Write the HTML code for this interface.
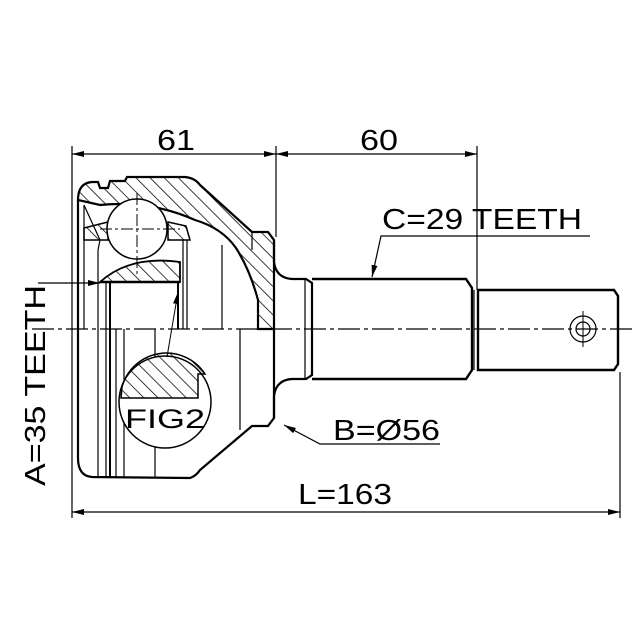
<!DOCTYPE html>
<html><head><meta charset="utf-8"><style>body{margin:0;background:#fff}svg{display:block}</style></head><body>
<svg width="640" height="640" viewBox="0 0 640 640" xmlns="http://www.w3.org/2000/svg" font-family="Liberation Sans, sans-serif">
<defs>
<pattern id="h" width="10" height="10" patternUnits="userSpaceOnUse" patternTransform="rotate(-45)"><line x1="0" y1="0" x2="0" y2="10" stroke="#000" stroke-width="1.5"/></pattern>
<marker id="a" viewBox="0 0 12 6" refX="12" refY="3" markerWidth="12" markerHeight="6" orient="auto-start-reverse" markerUnits="userSpaceOnUse"><path d="M0,0 L12,3 L0,6z" fill="#000"/></marker>
</defs>
<rect width="640" height="640" fill="#fff"/>
<g stroke="#000" fill="none">
<line x1="72" y1="146" x2="72" y2="518" stroke-width="1.2"/>
<line x1="276" y1="146" x2="276" y2="237" stroke-width="1.2"/>
<line x1="477" y1="146" x2="477" y2="290" stroke-width="1.2"/>
<line x1="620" y1="372" x2="620" y2="518" stroke-width="1.2"/>
<line x1="72" y1="154" x2="276" y2="154" stroke-width="1.2" marker-start="url(#a)" marker-end="url(#a)"/>
<line x1="276" y1="154" x2="477" y2="154" stroke-width="1.2" marker-start="url(#a)" marker-end="url(#a)"/>
<line x1="72" y1="512" x2="620" y2="512" stroke-width="1.2" marker-start="url(#a)" marker-end="url(#a)"/>
<path d="M78,200 Q78,183 92,182 L98,182 L100,188 L108,188 L110,181 L125,181 L127,177 L185,177 Q195,178 200,185 L252,232 L268,232 L274,240 L274,329 L258,329 L258,300 Q250,270 236,248 Q222,228 195,220 Q150,200 100,205 Z" fill="url(#h)" stroke-width="2.2"/>
<path d="M78,458 Q78,476 92,477 L190,478 Q196,476 200,470 L252,426 L268,426 L274,418 L274,329" stroke-width="2.2"/>
<line x1="78" y1="200" x2="78" y2="458" stroke-width="2.2"/>
<line x1="84" y1="205" x2="84" y2="329" stroke-width="1.2"/>
<line x1="98" y1="250" x2="98" y2="329" stroke-width="1.2"/>
<path d="M84,205 L100,240 L98,250" stroke-width="1.2"/>
<line x1="187" y1="240" x2="187" y2="329" stroke-width="1.2"/>
<line x1="183" y1="240" x2="183" y2="329" stroke-width="1.2"/>
<line x1="222" y1="245" x2="222" y2="329" stroke-width="1.2"/>
<line x1="252" y1="232" x2="252" y2="250" stroke-width="1.2"/>
<path d="M84,228 L108,222 L108,240 L84,240 Z" fill="url(#h)" stroke-width="1.5"/>
<path d="M168,222 L186,226 L190,240 L168,240 Z" fill="url(#h)" stroke-width="1.5"/>
<path d="M100,282 Q130,255 180,262 L180,282 Z" fill="url(#h)" stroke-width="1.8"/>
<line x1="100" y1="282" x2="180" y2="282" stroke-width="2.5"/>
<circle cx="137" cy="229" r="30" fill="#fff" stroke-width="1.5"/>
<line x1="137" y1="193" x2="137" y2="275" stroke-width="1" stroke-dasharray="12,3,3,3"/>
<line x1="100" y1="229" x2="180" y2="229" stroke-width="1" stroke-dasharray="12,3,3,3"/>
<line x1="98" y1="329" x2="98" y2="478" stroke-width="1.2"/>
<line x1="106" y1="283" x2="106" y2="478" stroke-width="1.2"/>
<line x1="110" y1="283" x2="110" y2="478" stroke-width="2"/>
<line x1="116" y1="329" x2="116" y2="478" stroke-width="1.2"/>
<line x1="124" y1="329" x2="124" y2="478" stroke-width="1.2"/>
<line x1="155" y1="329" x2="155" y2="478" stroke-width="1.2"/>
<line x1="240" y1="329" x2="240" y2="430" stroke-width="1.2"/>
<line x1="178" y1="283" x2="178" y2="329" stroke-width="2"/>
<path d="M274,240 L274,262 Q276,278 292,279 L306,279 L312,283 L312,375 L306,379 L292,379 Q276,380 274,396 L274,418" stroke-width="2.2"/>
<line x1="305" y1="280" x2="305" y2="378" stroke-width="1.2"/>
<path d="M312,279 L466,279 L472,288 L472,370 L466,379 L312,379" stroke-width="2.4"/>
<line x1="474" y1="290" x2="474" y2="370" stroke-width="1.2"/>
<path d="M478,290 L614,290 L618,296 L618,364 L614,370 L478,370 Z" stroke-width="2.4"/>
<circle cx="583" cy="329" r="13" stroke-width="1.2"/>
<circle cx="583" cy="329" r="7" stroke-width="1.2"/>
<line x1="583" y1="311" x2="583" y2="347" stroke-width="1"/>
<line x1="32" y1="329" x2="632" y2="329" stroke-width="1.2" stroke-dasharray="22,4,4,4"/>
<circle cx="165" cy="402" r="46" fill="#fff" stroke-width="1.5"/>
<path d="M122,387 A46,46 0 0 1 205,374 L198,374 L198,398 L121,398 Z" fill="url(#h)" stroke-width="1.5"/>
<line x1="167" y1="357" x2="178" y2="292" stroke-width="1" marker-end="url(#a)"/>
<line x1="38" y1="283" x2="100" y2="283" stroke-width="1.2" marker-end="url(#a)"/>
<path d="M590,236 L381,236 L372,277" stroke-width="1.2" marker-end="url(#a)"/>
<path d="M440,444 L320,444 L284,425" stroke-width="1.2" marker-end="url(#a)"/>
</g>
<g font-size="29" fill="#000">
<text x="157" y="150" textLength="38" lengthAdjust="spacingAndGlyphs">61</text>
<text x="360" y="150" textLength="38" lengthAdjust="spacingAndGlyphs">60</text>
<text x="298" y="504" textLength="94" lengthAdjust="spacingAndGlyphs">L=163</text>
<text x="382" y="229" textLength="200" lengthAdjust="spacingAndGlyphs">C=29 TEETH</text>
<text x="333" y="440" textLength="107" lengthAdjust="spacingAndGlyphs">B=Ø56</text>
<text x="125" y="428" font-size="27" textLength="80" lengthAdjust="spacingAndGlyphs">FIG2</text>
<text transform="translate(45,486) rotate(-90)" textLength="201" lengthAdjust="spacingAndGlyphs">A=35 TEETH</text>
</g>
</svg>
</body></html>
